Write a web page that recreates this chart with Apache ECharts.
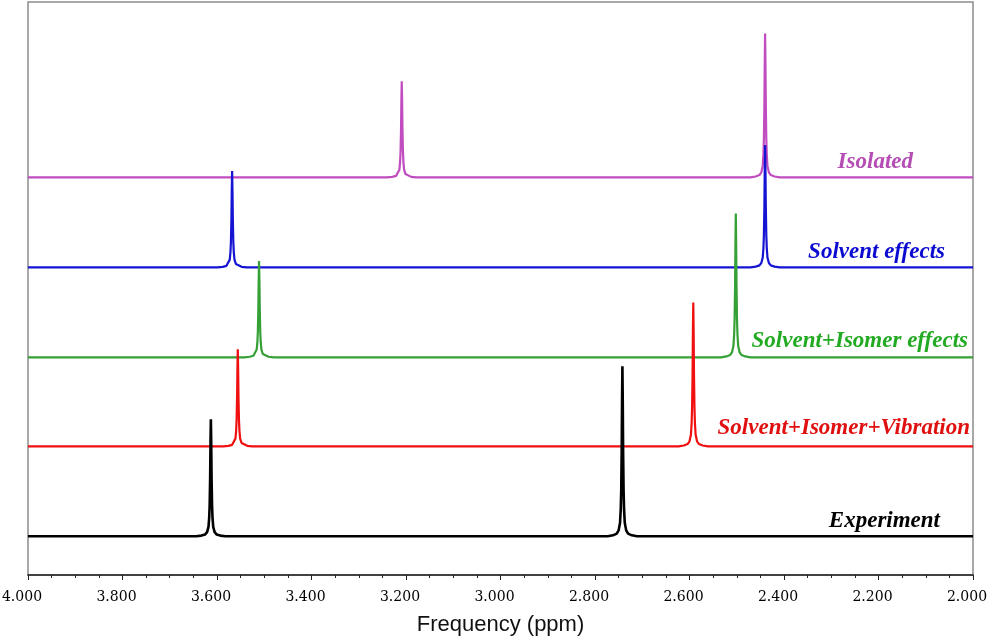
<!doctype html>
<html>
<head>
<meta charset="utf-8">
<title>NMR spectra</title>
<script src="https://cdn.jsdelivr.net/npm/echarts@6/dist/echarts.min.js"></script>
<style>
	html, body { margin: 0; padding: 0; background: #fff; overflow: hidden; }
	#chart { width: 988px; height: 638px; }
</style>
</head>
<body>
<div id="chart"></div>
<script>
	// spectrum names, stacked from top to bottom
	var names = ["Isolated", "Solvent effects", "Solvent+Isomer effects", "Solvent+Isomer+Vibration", "Experiment"];
	var colors = ["#c04cc0", "#1414d2", "#35a035", "#f01010", "#000000"];
	var labelColors = ["#b54db5", "#0a0ad0", "#22aa22", "#e01010", "#000000"];
	// baseline of each trace (stacking offset)
	var offsets = [4.42, 3.42, 2.42, 1.43, 0.43];

	// [ppm, intensity above baseline]
	var isolatedPts = [
		[4.000, 0], [3.240, 0],
		[3.229, 0.006], [3.221, 0.017], [3.217, 0.037], [3.214, 0.086], [3.2125, 0.171], [3.2115, 0.289], [3.2105, 0.535], [3.2098, 0.835],
		[3.209, 1.07],
		[3.2082, 0.835], [3.2075, 0.535], [3.2065, 0.289], [3.2055, 0.171], [3.204, 0.086], [3.201, 0.037], [3.197, 0.017], [3.189, 0.006],
		[3.178, 0], [2.471, 0],
		[2.460, 0.010], [2.452, 0.026], [2.448, 0.056], [2.445, 0.128], [2.4435, 0.256], [2.4425, 0.432], [2.4415, 0.80], [2.4408, 1.248],
		[2.440, 1.60],
		[2.4392, 1.248], [2.4385, 0.80], [2.4375, 0.432], [2.4365, 0.256], [2.435, 0.128], [2.432, 0.056], [2.428, 0.026], [2.420, 0.010],
		[2.409, 0], [2.000, 0]
	];
	var solventPts = [
		[4.000, 0], [3.599, 0],
		[3.588, 0.006], [3.580, 0.017], [3.576, 0.037], [3.573, 0.086], [3.5715, 0.171], [3.5705, 0.289], [3.5695, 0.535], [3.5688, 0.835],
		[3.568, 1.07],
		[3.5672, 0.835], [3.5665, 0.535], [3.5655, 0.289], [3.5645, 0.171], [3.563, 0.086], [3.560, 0.037], [3.556, 0.017], [3.548, 0.006],
		[3.537, 0], [2.471, 0],
		[2.460, 0.008], [2.452, 0.022], [2.448, 0.048], [2.445, 0.109], [2.4435, 0.218], [2.4425, 0.367], [2.4415, 0.68], [2.4408, 1.061],
		[2.440, 1.36],
		[2.4392, 1.061], [2.4385, 0.68], [2.4375, 0.367], [2.4365, 0.218], [2.435, 0.109], [2.432, 0.048], [2.428, 0.022], [2.420, 0.008],
		[2.409, 0], [2.000, 0]
	];
	var isomerPts = [
		[4.000, 0], [3.542, 0],
		[3.531, 0.006], [3.523, 0.017], [3.519, 0.037], [3.516, 0.086], [3.5145, 0.171], [3.5135, 0.289], [3.5125, 0.535], [3.5118, 0.835],
		[3.511, 1.07],
		[3.5102, 0.835], [3.5095, 0.535], [3.5085, 0.289], [3.5075, 0.171], [3.506, 0.086], [3.503, 0.037], [3.499, 0.017], [3.491, 0.006],
		[3.480, 0], [2.533, 0],
		[2.522, 0.010], [2.514, 0.026], [2.510, 0.056], [2.507, 0.128], [2.5055, 0.256], [2.5045, 0.432], [2.5035, 0.80], [2.5028, 1.248],
		[2.502, 1.60],
		[2.5012, 1.248], [2.5005, 0.80], [2.4995, 0.432], [2.4985, 0.256], [2.497, 0.128], [2.494, 0.056], [2.490, 0.026], [2.482, 0.010],
		[2.471, 0], [2.000, 0]
	];
	var vibrationPts = [
		[4.000, 0], [3.587, 0],
		[3.576, 0.006], [3.568, 0.017], [3.564, 0.038], [3.561, 0.086], [3.5595, 0.173], [3.5585, 0.292], [3.5575, 0.54], [3.5568, 0.842],
		[3.556, 1.08],
		[3.5552, 0.842], [3.5545, 0.54], [3.5535, 0.292], [3.5525, 0.173], [3.551, 0.086], [3.548, 0.038], [3.544, 0.017], [3.536, 0.006],
		[3.525, 0], [2.623, 0],
		[2.612, 0.010], [2.604, 0.026], [2.600, 0.056], [2.597, 0.128], [2.5955, 0.256], [2.5945, 0.432], [2.5935, 0.80], [2.5928, 1.248],
		[2.592, 1.60],
		[2.5912, 1.248], [2.5905, 0.80], [2.5895, 0.432], [2.5885, 0.256], [2.587, 0.128], [2.584, 0.056], [2.580, 0.026], [2.572, 0.010],
		[2.561, 0], [2.000, 0]
	];
	var experimentPts = [
		[4.000, 0], [3.644, 0],
		[3.633, 0.008], [3.625, 0.021], [3.621, 0.046], [3.618, 0.104], [3.6165, 0.208], [3.6155, 0.351], [3.6145, 0.65], [3.6138, 1.014],
		[3.613, 1.30],
		[3.6122, 1.014], [3.6115, 0.65], [3.6105, 0.351], [3.6095, 0.208], [3.608, 0.104], [3.605, 0.046], [3.601, 0.021], [3.593, 0.008],
		[3.582, 0], [2.773, 0],
		[2.762, 0.011], [2.754, 0.030], [2.750, 0.066], [2.747, 0.151], [2.7455, 0.302], [2.7445, 0.510], [2.7435, 0.945], [2.7428, 1.474],
		[2.742, 1.89],
		[2.7412, 1.474], [2.7405, 0.945], [2.7395, 0.510], [2.7385, 0.302], [2.737, 0.151], [2.734, 0.066], [2.730, 0.030], [2.722, 0.011],
		[2.711, 0], [2.000, 0]
	];
	var allPts = [isolatedPts, solventPts, isomerPts, vibrationPts, experimentPts];

	// label placement (right edge x, middle y) in pixels
	var labelPos = [[913, 162], [945, 252], [968, 341], [970, 428], [940, 521]];

	var chart = echarts.init(document.getElementById("chart"));

	var series = [];
	for (var i = 0; i < names.length; i++) {
		series.push({
			name: names[i],
			type: 'line',
			symbol: 'none',
			lineStyle: {
				color: colors[i],
				width: i == 4 ? 2.6 : 2.2
			},
			data: allPts[i].map(function(p) {
				return [p[0], this.off + p[1]];
			}, { off: offsets[i] })
		});
	}

	var graphics = [];
	for (var j = 0; j < names.length; j++) {
		graphics.push({
			type: 'text',
			style: {
				x: labelPos[j][0],
				y: labelPos[j][1],
				text: names[j],
				textAlign: 'right',
				textVerticalAlign: 'middle',
				fill: labelColors[j],
				font: 'italic bold 23px "Liberation Serif", "Times New Roman", serif'
			}
		});
	}

	chart.setOption({
		animation: false,
		grid: {
			show: true,
			left: 28,
			right: 15,
			top: 2,
			bottom: 63,
			containLabel: false,
			outerBoundsMode: 'none',
			borderColor: '#8c8c8c',
			borderWidth: 1.5,
			backgroundColor: 'transparent'
		},
		xAxis: {
			type: 'value',
			inverse: true,
			min: 2,
			max: 4,
			interval: 0.2,
			name: 'Frequency (ppm)',
			nameLocation: 'middle',
			nameGap: 39,
			nameTextStyle: {
				color: '#111',
				fontSize: 22,
				fontFamily: '"Liberation Sans", Arial, sans-serif'
			},
			axisLine: {
				show: true,
				lineStyle: {
					color: '#222',
					width: 1.5
				}
			},
			axisTick: {
				show: true,
				length: 5,
				lineStyle: {
					color: '#222'
				}
			},
			minorTick: {
				show: true,
				splitNumber: 4,
				length: 3,
				lineStyle: {
					color: '#222'
				}
			},
			splitLine: {
				show: false
			},
			axisLabel: {
				margin: 15,
				padding: [0, 12, 0, 0],
				color: '#000',
				fontSize: 14,
				fontFamily: '"DejaVu Serif", serif',
				formatter: function(v) {
					return v.toFixed(3);
				}
			}
		},
		yAxis: {
			type: 'value',
			min: 0,
			max: 6.37,
			show: false,
			splitLine: {
				show: false
			}
		},
		series: series,
		graphic: graphics
	});
</script>
</body>
</html>
